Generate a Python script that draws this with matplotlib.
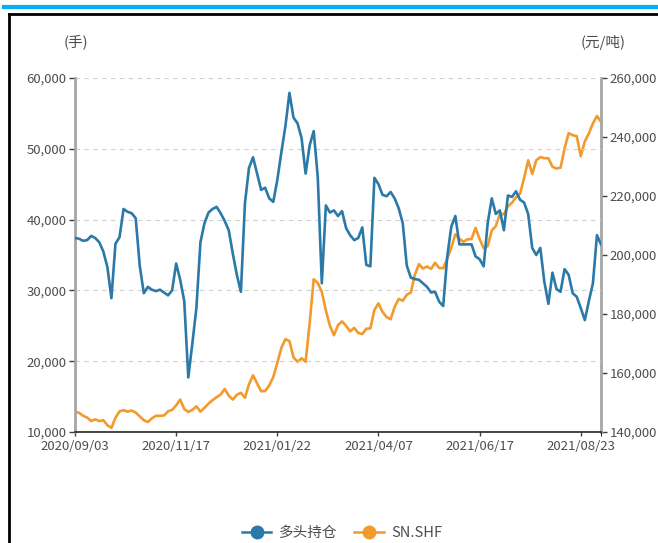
import matplotlib
matplotlib.use("Agg")
import matplotlib.pyplot as plt
from matplotlib.lines import Line2D
from matplotlib.ticker import FuncFormatter

plt.rcParams["font.family"] = ["Noto Sans CJK SC", "DejaVu Sans"]

# one value every 2 trading days, from 2020/09/03
long_pos = [
    37400, 37300, 37000, 37100, 37700, 37400, 36800, 35500, 33300, 28900,
    36600, 37500, 41500, 41100, 40900, 40200, 33500, 29600, 30500, 30100,
    29900, 30100, 29700, 29300, 30000, 33800, 31500, 28500, 17700, 22500,
    27500, 36800, 39500, 41000, 41500, 41800, 40900, 39800, 38500, 35200,
    32200, 29800, 42300, 47300, 48800, 46500, 44200, 44500, 43000, 42500,
    45600, 49500, 53200, 57900, 54400, 53600, 51500, 46500, 50500, 52500,
    46000, 31000, 42000, 41000, 41300, 40500, 41200, 38800, 37800, 37100,
    37400, 38900, 33600, 33400, 45900, 45000, 43500, 43300, 43900, 43000,
    41600, 39500, 33500, 31800, 31600, 31500, 31000, 30500, 29700, 29800,
    28400, 27800, 34800, 39000, 40500, 36500, 36500, 36500, 36500, 34800,
    34400, 33400, 39500, 43000, 40800, 41300, 38500, 43400, 43200, 44000,
    42800, 42400, 40800, 36000, 35000, 36000, 31200, 28100, 32500, 30200,
    29800, 33000, 32200, 29600, 29100, 27500, 25800, 28500, 31000, 37800,
    36500,
]
sn_shf = [
    146800, 146500, 145500, 144900, 143700, 144300, 143700, 144000, 142300, 141400,
    144800, 147000, 147400, 146900, 147300, 146600, 145300, 144000, 143400, 144600,
    145500, 145500, 145600, 147000, 147500, 149000, 151000, 147800, 146800, 147500,
    148700, 146900, 148200, 149600, 150800, 151800, 152700, 154600, 152300, 151000,
    152600, 153300, 151600, 156200, 159200, 156500, 153800, 153900, 155800, 158600,
    163400, 168500, 171500, 170800, 165300, 163800, 165000, 163800, 177000, 191800,
    190500, 187500, 181200, 176000, 172800, 176200, 177500, 176000, 174100, 175300,
    173600, 173200, 175000, 175100, 181400, 183600, 180700, 179000, 178200, 182400,
    185100, 184500, 186500, 187300, 193300, 196900, 195400, 196100, 195300, 197400,
    195600, 195500, 198700, 202500, 207000, 205500, 204500, 205300, 205400, 209200,
    205400, 202300, 203000, 208300, 209800, 213900, 213800, 216500, 217700, 219600,
    220800, 226100, 232100, 227500, 232100, 233200, 232800, 232800, 229900, 229300,
    229600, 236100, 241300, 240600, 240300, 233500, 238500, 241200, 244600, 247100,
    245200,
]
day_idx = [2 * k for k in range(len(long_pos))]

tick_pos = [0, 50, 100, 150, 200, 250]
tick_labels = ["2020/09/03", "2020/11/17", "2021/01/22",
               "2021/04/07", "2021/06/17", "2021/08/23"]

blue = "#2b79a8"
orange = "#f39a2c"
label_color = "#4d4d4d"

fig = plt.figure(figsize=(6.58, 5.43), dpi=100)
ax = fig.add_axes([75 / 658, 111 / 543, 526 / 658, 354 / 543])
ax2 = ax.twinx()

ax.plot(day_idx, long_pos, color=blue, lw=1.9, zorder=3)
ax2.plot(day_idx, sn_shf, color=orange, lw=1.9, zorder=2)
ax.set_zorder(ax2.get_zorder() + 1)
ax.patch.set_visible(False)

ax.set_xlim(0, 260)
ax.set_ylim(10000, 60000)
ax2.set_ylim(140000, 260000)
ax.set_yticks(range(10000, 60001, 10000))
ax2.set_yticks(range(140000, 260001, 20000))
fmt = FuncFormatter(lambda v, p: f"{int(v):,}")
ax.yaxis.set_major_formatter(fmt)
ax2.yaxis.set_major_formatter(fmt)

ax.set_xticks(tick_pos)
ax.set_xticklabels(tick_labels)
ax.set_xticks([260], minor=True)

ax.grid(axis="y", color="#d0d0d0", ls=(0, (4, 4)), lw=0.8)

for a in (ax, ax2):
    a.spines["top"].set_visible(False)
    a.tick_params(labelsize=9.5, labelcolor=label_color, color="#404040",
                  length=4, width=1)
ax.spines["left"].set_color("#a6a6a6")
ax.spines["left"].set_linewidth(2)
ax.spines["right"].set_visible(False)
ax2.spines["left"].set_visible(False)
ax2.spines["bottom"].set_visible(False)
ax2.spines["right"].set_color("#a6a6a6")
ax2.spines["right"].set_linewidth(2)
ax.spines["bottom"].set_color("#262626")
ax.spines["bottom"].set_linewidth(1.2)
ax.tick_params(axis="x", length=3, pad=3, which="both")
ax.tick_params(axis="y", pad=2)
ax2.tick_params(axis="y", pad=2)

fig.text(76 / 658, 1 - 42 / 543, "(手)", ha="center", va="center",
         fontsize=10.5, color=label_color)
fig.text(603 / 658, 1 - 42 / 543, "(元/吨)", ha="center", va="center",
         fontsize=10.5, color=label_color)

# header bar and frame
fig.add_artist(Line2D([4 / 658, 1], [1 - 6.5 / 543] * 2, color="#00b0f0",
                      lw=3, transform=fig.transFigure))
fig.add_artist(Line2D([8.5 / 658, 1], [1 - 14 / 543] * 2, color="black",
                      lw=2, transform=fig.transFigure))
fig.add_artist(Line2D([9 / 658] * 2, [0, 1 - 14 / 543], color="black",
                      lw=2, transform=fig.transFigure))

handles = [
    Line2D([], [], color=blue, lw=1.8, marker="o", markersize=9),
    Line2D([], [], color=orange, lw=1.8, marker="o", markersize=9),
]
fig.legend(handles, ["多头持仓", "SN.SHF"], loc="center", ncol=2,
           bbox_to_anchor=(342 / 658, 10 / 543), frameon=False,
           fontsize=10.5, handlelength=2.0, handletextpad=0.5,
           columnspacing=1.2, labelcolor=label_color)

fig.savefig("out.png", dpi=100)
